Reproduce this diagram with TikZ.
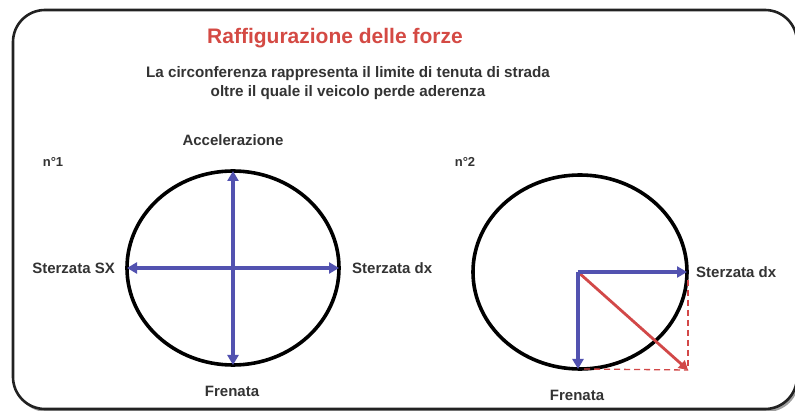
\documentclass[tikz,border=0pt]{standalone}
\usepackage{fontspec}
\setmainfont{Liberation Sans}
\usetikzlibrary{arrows.meta,shapes.geometric}
\definecolor{frameblack}{HTML}{222222}
\definecolor{vecblue}{HTML}{5252B0}
\definecolor{vecred}{HTML}{D24848}
\definecolor{titlered}{HTML}{D44A44}
\definecolor{labelgray}{HTML}{333333}
\tikzset{
  wheel/.style={ellipse,draw=black,line width=3.6pt,inner sep=0pt,outer sep=0pt},
  vec/.style={draw=vecblue,line width=3.6pt,-{Triangle[length=10pt,width=11pt]}},
  bivec/.style={draw=vecblue,line width=3.6pt,{Triangle[length=10pt,width=11pt]}-{Triangle[length=10pt,width=11pt]}},
  resvec/.style={draw=vecred,line width=2.8pt,-{Triangle[length=9pt,width=10pt]}},
  guide/.style={draw=vecred,line width=1.3pt,dash pattern=on 6pt off 4pt},
  lbl/.style={font=\bfseries\fontsize{15}{16}\selectfont,text=labelgray,inner sep=1pt},
  numlbl/.style={font=\bfseries\fontsize{13}{15}\selectfont,text=labelgray,inner sep=1pt},
}
\begin{document}
\begin{tikzpicture}[x=1pt,y=-1pt]
\useasboundingbox (0,0) rectangle (795,411);
% frame with shadow
\fill[gray!75,rounded corners=32pt] (15,13) rectangle (799,412);
\draw[frameblack,line width=2.6pt,fill=white,rounded corners=32pt] (13,10) rectangle (797,409);
% title
\node[font=\bfseries\fontsize{21}{24}\selectfont,text=titlered] (title) at (335,38) {Raffigurazione delle forze};
\node[font=\bfseries\fontsize{15.2}{19}\selectfont,text=labelgray,align=center] (sub) at (348,83)
  {La circonferenza rappresenta il limite di tenuta di strada\\oltre il quale il veicolo perde aderenza};
% diagram 1
\node[numlbl] (n1) at (53,162) {n°1};
\node[wheel,minimum width=212pt,minimum height=194pt] (c1) at (233,268) {};
\draw[bivec] (c1.west) -- (c1.east);
\draw[bivec] (c1.south) -- (c1.north);
\node[lbl] (acc) at (233,140) {Accelerazione};
\node[lbl,anchor=east] (sx) at (116,268) {Sterzata SX};
\node[lbl,anchor=west] (dx1) at (351,268) {Sterzata dx};
\node[lbl] (fr1) at (232,391) {Frenata};
% diagram 2
\node[numlbl] (n2) at (465,162) {n°2};
\node[wheel,minimum width=214pt,minimum height=194pt] (c2) at (580,272) {};
\coordinate (o2) at (578,272);
\coordinate (dxend) at (c2.east |- o2);
\coordinate (frend) at (o2 |- c2.south);
\coordinate (res) at (688,370);
\draw[guide] (688,280) -- (res);
\draw[guide] (584,369) -- (res);
\draw[resvec] (o2) -- (res);
\draw[vec] (o2) -- (dxend);
\draw[vec] (o2) -- (frend);
\node[lbl,anchor=west] (dx2) at (695,272) {Sterzata dx};
\node[lbl] (fr2) at (577,395) {Frenata};
\end{tikzpicture}
\end{document}
